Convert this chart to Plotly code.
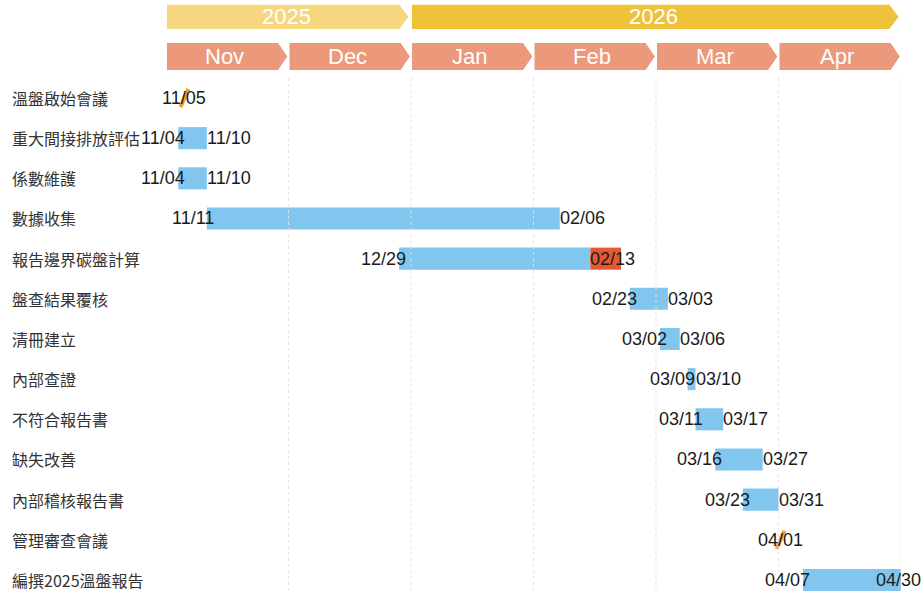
import calendar
import plotly.graph_objects as go

# ---------------- data ----------------
tasks = ["溫盤啟始會議", "重大間接排放評估", "係數維護", "數據收集", "報告邊界碳盤計算",
         "盤查結果覆核", "清冊建立", "內部查證", "不符合報告書", "缺失改善",
         "內部稽核報告書", "管理審查會議", "編撰2025溫盤報告"]
starts = ["2025-11-05", "2025-11-04", "2025-11-04", "2025-11-11", "2025-12-29",
          "2026-02-23", "2026-03-02", "2026-03-09", "2026-03-11", "2026-03-16",
          "2026-03-23", "2026-04-01", "2026-04-07"]
ends = ["2025-11-05", "2025-11-10", "2025-11-10", "2026-02-06", "2026-02-13",
        "2026-03-03", "2026-03-06", "2026-03-10", "2026-03-17", "2026-03-27",
        "2026-03-31", "2026-04-01", "2026-04-30"]
milestone = [True, False, False, False, False, False, False, False, False, False,
             False, True, False]
# delay segment (red) on 報告邊界碳盤計算
delay_task = "報告邊界碳盤計算"
delay_start = "2026-02-14"
delay_end = "2026-02-20"

months = ["Nov", "Dec", "Jan", "Feb", "Mar", "Apr"]
month_years = [2025, 2025, 2026, 2026, 2026, 2026]
years = ["2025", "2026"]

# ---------------- styles ----------------
BLUE = "rgb(128,198,238)"
RED = "rgb(228,88,52)"
ORANGE = "rgb(245,160,40)"
YEAR_COLORS = {"2025": "rgb(247,214,128)", "2026": "rgb(240,194,58)"}
MONTH_COLOR = "rgb(236,152,122)"
LAT = "Liberation Sans, Arial, sans-serif"
CJK = "Noto Sans CJK TC, Noto Sans CJK SC, sans-serif"
DATE_FONT = dict(family=LAT, size=18, color="#1a1a1a")


def pos(dstr, end=False):
    y, m, d = map(int, dstr.split("-"))
    mi = (y - 2025) * 12 + m - 11
    dim = calendar.monthrange(y, m)[1]
    return mi + (d if end else d - 1) / dim


def mmdd(dstr):
    return dstr[5:7] + "/" + dstr[8:10]


rows = list(range(len(tasks)))
fig = go.Figure()

# bars (non-milestone)
bar_rows = [r for r in rows if not milestone[r]]
fig.add_trace(go.Bar(
    orientation="h",
    y=bar_rows,
    base=[pos(starts[r]) for r in bar_rows],
    x=[pos(ends[r], True) - pos(starts[r]) for r in bar_rows],
    width=0.55,
    marker=dict(color=BLUE, line=dict(width=0)),
    hoverinfo="skip", showlegend=False,
))
# delay segment
dr = tasks.index(delay_task)
fig.add_trace(go.Bar(
    orientation="h", y=[dr], base=[pos(delay_start)],
    x=[pos(delay_end, True) - pos(delay_start)], width=0.55,
    marker=dict(color=RED, line=dict(width=0)),
    hoverinfo="skip", showlegend=False,
))
# milestones
ms_rows = [r for r in rows if milestone[r]]
fig.add_trace(go.Scatter(
    x=[(pos(starts[r]) + pos(starts[r], True)) / 2 for r in ms_rows],
    y=ms_rows, mode="markers",
    marker=dict(symbol="line-ne", size=14, angle=-22,
                line=dict(color=ORANGE, width=4)),
    hoverinfo="skip", showlegend=False,
))

annotations = []
# left task labels
for r in rows:
    annotations.append(dict(x=-0.2122, xref="paper", y=r, yref="y", text=tasks[r],
                            xanchor="left", yanchor="middle", showarrow=False,
                            font=dict(family=CJK, size=16, color="#333333")))
# date labels
for r in rows:
    if milestone[r]:
        annotations.append(dict(x=(pos(starts[r]) + pos(starts[r], True)) / 2, y=r,
                                text=mmdd(starts[r]), xanchor="center", yanchor="middle",
                                showarrow=False, font=DATE_FONT))
        continue
    annotations.append(dict(x=pos(starts[r]), y=r, text=mmdd(starts[r]), xanchor="right",
                            xshift=9, yanchor="middle", showarrow=False, font=DATE_FONT))
    xe = pos(ends[r], True)
    if xe > 5.9:
        annotations.append(dict(x=xe, y=r, text=mmdd(ends[r]), xanchor="right", xshift=22,
                                yanchor="middle", showarrow=False, font=DATE_FONT))
    else:
        annotations.append(dict(x=xe, y=r, text=mmdd(ends[r]), xanchor="left", xshift=-2,
                                yanchor="middle", showarrow=False, font=DATE_FONT))

shapes = []
TIP = 0.075


def chevron(x0, x1, y0, y1, color):
    ym = (y0 + y1) / 2
    path = (f"M {x0},{y0} L {x1 - TIP},{y0} L {x1},{ym} L {x1 - TIP},{y1} "
            f"L {x0},{y1} Z")
    return dict(type="path", path=path, xref="x", yref="y", fillcolor=color,
                line=dict(width=0), layer="above")


# month chevrons
for i, mname in enumerate(months):
    shapes.append(chevron(i + 0.008, i + 1 - 0.01, -1.37, -0.70, MONTH_COLOR))
    annotations.append(dict(x=i + 0.48, y=-1.03, text=mname, showarrow=False,
                            xanchor="center", yanchor="middle",
                            font=dict(family=LAT, size=22, color="white")))
# year bands
for yr in years:
    idx = [i for i, my in enumerate(month_years) if str(my) == yr]
    x0, x1 = idx[0], idx[-1] + 1
    shapes.append(chevron(x0 + 0.008, x1 - 0.02, -2.32, -1.72, YEAR_COLORS[yr]))
    annotations.append(dict(x=(x0 + x1) / 2 - 0.02, y=-2.02, text=yr, showarrow=False,
                            xanchor="center", yanchor="middle",
                            font=dict(family=LAT, size=22, color="white")))
# month gridlines
for i in range(1, len(months) + 1):
    shapes.append(dict(type="line", x0=i, x1=i, y0=-0.5, y1=12.35, xref="x", yref="y",
                       line=dict(color="rgba(225,225,225,0.9)", width=1, dash="dot"),
                       layer="above"))

fig.update_layout(
    width=921, height=594, autosize=False,
    margin=dict(l=166, r=20, t=0, b=0),
    paper_bgcolor="white", plot_bgcolor="white",
    barmode="overlay",
    xaxis=dict(range=[0, 6], showgrid=False, zeroline=False, showticklabels=False,
               showline=False, fixedrange=True),
    yaxis=dict(range=[12.35, -2.44], showgrid=False, zeroline=False, showticklabels=False,
               showline=False, fixedrange=True),
    shapes=shapes, annotations=annotations,
)

fig.write_html("out.html", config={"displayModeBar": False},
               post_script="document.body.style.margin='0';"
                           "document.body.style.overflow='hidden';")
